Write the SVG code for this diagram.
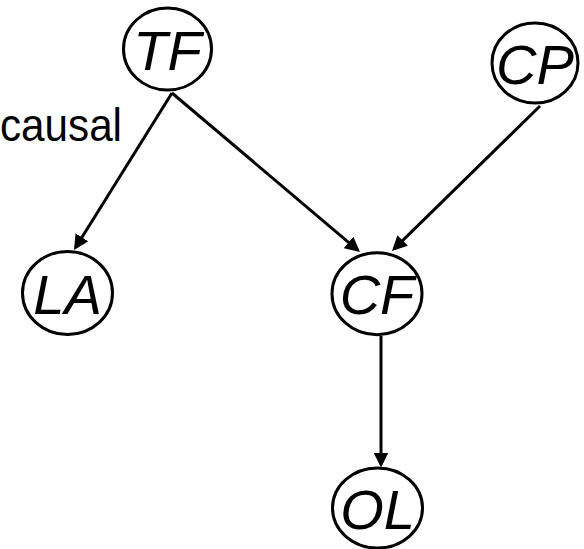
<svg xmlns="http://www.w3.org/2000/svg" width="584" height="549" viewBox="0 0 584 549">
  <style>
    .node ellipse { fill: #fff; stroke: #000; stroke-width: 3; }
    .node text { font-family: "Liberation Sans", Arial, sans-serif; font-style: italic; font-size: 56px; fill: #000; text-anchor: middle; }
    .edge { stroke: #000; stroke-width: 3; fill: none; marker-end: url(#arrow); }
    .label { font-family: "Liberation Sans", Arial, sans-serif; font-size: 47px; fill: #000; }
  </style>
  <defs>
    <marker id="arrow" markerUnits="userSpaceOnUse" markerWidth="15" markerHeight="15" refX="12" refY="7.5" orient="auto">
      <path d="M0,0 L15,7.5 L0,15 Z" fill="#000"/>
    </marker>
  </defs>
  <rect width="584" height="549" fill="#fff"/>

  <!-- free-standing label -->
  <text class="label" x="0" y="141" textLength="122" lengthAdjust="spacingAndGlyphs">causal</text>

  <!-- connectors -->
  <g id="edges">
    <line class="edge" x1="172" y1="93" x2="75.6" y2="247.5"/>
    <line class="edge" x1="172" y1="93" x2="357.7" y2="250.1"/>
    <line class="edge" x1="540" y1="106" x2="394.1" y2="248.9"/>
    <line class="edge" x1="381" y1="336" x2="381" y2="464.5"/>
  </g>

  <!-- nodes -->
  <g id="TF" class="node">
    <ellipse cx="167.5" cy="49" rx="44" ry="41"/>
    <text x="167.5" y="70">TF</text>
  </g>
  <g id="CP" class="node">
    <ellipse cx="535" cy="63" rx="43" ry="40"/>
    <text x="535" y="84">CP</text>
  </g>
  <g id="LA" class="node">
    <ellipse cx="67.5" cy="293" rx="45" ry="41.5"/>
    <text x="67.5" y="314">LA</text>
  </g>
  <g id="CF" class="node">
    <ellipse cx="377" cy="293.7" rx="45" ry="41"/>
    <text x="377" y="314">CF</text>
  </g>
  <g id="OL" class="node">
    <ellipse cx="377.5" cy="508" rx="45" ry="40"/>
    <text x="377.5" y="529">OL</text>
  </g>
</svg>
